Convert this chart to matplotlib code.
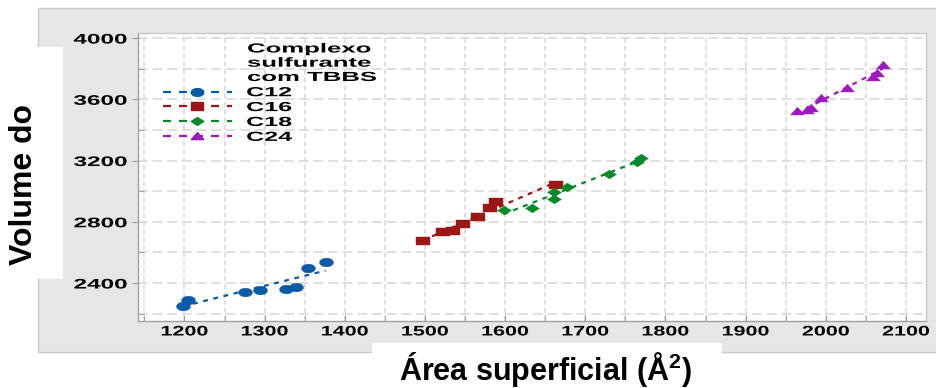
import numpy as np
import matplotlib
matplotlib.use('Agg')
import matplotlib.pyplot as plt
from matplotlib.lines import Line2D
from matplotlib.patches import Rectangle
from matplotlib.patheffects import AbstractPathEffect
from matplotlib.transforms import Affine2D
from matplotlib.ticker import MultipleLocator

# ---------------- data ----------------
c12_area = [1198, 1204, 1275, 1294, 1327, 1339, 1354, 1376]
c12_vol = [2250, 2289, 2343, 2354, 2363, 2372, 2500, 2539]
c16_area = [1497, 1522, 1535, 1548, 1566, 1581, 1589, 1664]
c16_vol = [2676, 2735, 2742, 2785, 2833, 2890, 2929, 3038]
c18_area = [1598, 1633, 1661, 1661, 1677, 1730, 1765, 1769]
c18_vol = [2877, 2888, 2951, 2996, 3029, 3112, 3192, 3214]
c24_area = [1964, 1976, 1982, 1994, 2026, 2059, 2064, 2071]
c24_vol = [3525, 3528, 3541, 3606, 3672, 3748, 3775, 3824]

series_labels = ['C12', 'C16', 'C18', 'C24']
legend_title = ['Complexo', 'sulfurante', 'com TBBS']
x_ticks = [1200, 1300, 1400, 1500, 1600, 1700, 1800, 1900, 2000, 2100]
y_ticks = [2400, 2800, 3200, 3600, 4000]
x_label = 'Área superficial (Å$^{2}$)'
y_label = 'Volume do'

# ---------------- style ----------------
colors = ['#0b5aa8', '#9e1515', '#07892b', '#9b19bd']
R = 1.6  # horizontal stretch of markers
ell = [(R * np.cos(t), np.sin(t)) for t in np.linspace(0, 2 * np.pi, 40)]
rect = [(-R, -1), (R, -1), (R, 1), (-R, 1), (-R, -1)]
diam = [(-R, 0), (0, -1), (R, 0), (0, 1), (-R, 0)]
tri = [(-R, -0.8), (R, -0.8), (0, 1.0), (-R, -0.8)]
markers = [ell, rect, diam, tri]

plt.rcParams['font.family'] = ['Liberation Sans', 'DejaVu Sans']
plt.rcParams['font.weight'] = 'bold'
plt.rcParams['axes.labelweight'] = 'bold'
plt.rcParams['mathtext.fontset'] = 'custom'
plt.rcParams['mathtext.rm'] = 'Liberation Sans:bold'
plt.rcParams['mathtext.it'] = 'Liberation Sans:bold'
plt.rcParams['mathtext.bf'] = 'Liberation Sans:bold'


class HStretch(AbstractPathEffect):
    """Stretch text glyphs horizontally about an anchor."""
    def __init__(self, sx, anchor='left'):
        super().__init__()
        self.sx = sx
        self.anchor = anchor

    def draw_path(self, renderer, gc, tpath, affine, rgbFace=None):
        ext = tpath.get_extents()
        if self.anchor == 'right':
            a = ext.x1
        elif self.anchor == 'center':
            a = 0.5 * (ext.x0 + ext.x1)
        else:
            a = 0.0
        pre = Affine2D().translate(-a, 0).scale(self.sx, 1).translate(a, 0)
        renderer.draw_path(gc, tpath, pre + affine, rgbFace)


W, H = 936, 388
fig = plt.figure(figsize=(W / 100, H / 100), dpi=100)

# grey panel and white cut-outs
fig.add_artist(Rectangle((38 / W, 1 - 352 / H), (W - 37) / W, 344 / H,
                         transform=fig.transFigure, fc='#e6e6e6', ec='#c8c8c8',
                         lw=1.0, zorder=-3))
fig.add_artist(Rectangle((36 / W, 1 - 279 / H), 27 / W, 232 / H,
                         transform=fig.transFigure, fc='white', ec='none', zorder=-2))
fig.add_artist(Rectangle((372 / W, -0.01), 350 / W, (H - 343) / H + 0.01,
                         transform=fig.transFigure, fc='white', ec='none', zorder=-2))

ax = fig.add_axes([138 / W, 1 - 321 / H, 788 / W, 288 / H])
ax.set_facecolor('white')
ax.set_xlim(1142, 2125)
ax.set_ylim(2152, 4033)

data = [(c12_area, c12_vol), (c16_area, c16_vol), (c18_area, c18_vol), (c24_area, c24_vol)]
for (xs, ys), c, m in zip(data, colors, markers):
    xs = np.asarray(xs, float)
    ys = np.asarray(ys, float)
    k, b = np.polyfit(xs, ys, 1)
    xl = np.array([xs.min(), xs.max()])
    ax.plot(xl, k * xl + b, color=c, lw=1.6, ls=(0, (2.2, 2.5)), zorder=2)
    ax.plot(xs, ys, ls='none', marker=m, ms=10, color=c, mec=c, mew=0.3, zorder=3)

# ticks & grid
ax.set_xticks(x_ticks)
ax.xaxis.set_minor_locator(MultipleLocator(50))
ax.set_yticks(y_ticks)
ax.yaxis.set_minor_locator(MultipleLocator(200))
ax.tick_params(axis='x', which='both', direction='in', length=4, color='#9a9a9a',
               labelsize=10, pad=2.5, labelcolor='black')
ax.tick_params(axis='y', which='major', direction='out', length=4.3, color='#9a9a9a',
               labelsize=10, pad=3.5, labelcolor='black')
ax.tick_params(axis='y', which='minor', direction='in', length=4.3, color='#9a9a9a')
ax.set_axisbelow(True)
ax.xaxis.grid(True, which='both', color='#dcdcdc', lw=1.3, ls=(0, (2.8, 1.6)))
ax.yaxis.grid(True, which='both', color='#dcdcdc', lw=1.3, ls=(0, (5.4, 2.7)))
for s in ['left', 'bottom']:
    ax.spines[s].set_color('#a0a0a0')
for s in ['top', 'right']:
    ax.spines[s].set_color('#c8c8c8')
for s in ax.spines.values():
    s.set_linewidth(1.0)

for lab in ax.get_xticklabels():
    lab.set_path_effects([HStretch(1.55, 'center')])
for lab in ax.get_yticklabels():
    lab.set_path_effects([HStretch(1.75, 'right')])

# axis labels
ax.set_ylabel(y_label, fontsize=23, fontweight='bold', va='center')
ax.yaxis.set_label_coords((24 - 138) / 788, (321 - 185) / 288)
ax.set_xlabel(x_label, fontsize=22, fontweight='bold', va='baseline')
ax.xaxis.set_label_coords((545.5 - 138) / 788, (321 - 380) / 288)

# legend
handles = [Line2D([], [], color=c, lw=1.6, ls=(0, (3.6, 3.6)), marker=m, ms=9,
                  mfc=c, mec=c) for c, m in zip(colors, markers)]
leg = ax.legend(handles, series_labels, loc='upper left',
                bbox_to_anchor=((163 - 138) / 788, (321 - 87) / 288),
                frameon=False, fontsize=9.5, handlelength=5.2, handletextpad=1.1,
                labelspacing=0.2, borderpad=0, borderaxespad=0)
for t in leg.get_texts():
    t.set_path_effects([HStretch(1.9, 'left')])

for line, base in zip(legend_title, [52.5, 66.7, 81.0]):
    ax.text((247 - 138) / 788, (321 - base) / 288, line, transform=ax.transAxes,
            fontsize=9.5, ha='left', va='baseline',
            path_effects=[HStretch(1.95, 'left')])

fig.savefig('out.png', dpi=100)
